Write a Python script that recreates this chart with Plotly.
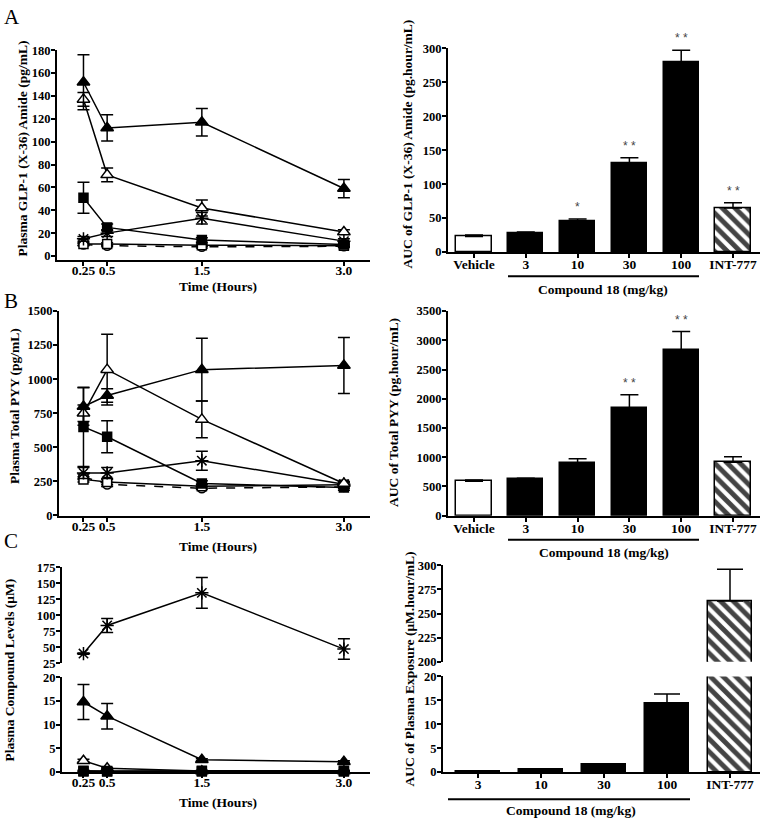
import plotly.graph_objects as go

# ---- data ----
hours = [0.25, 0.5, 1.5, 3.0]
hour_labels = ["0.25", "0.5", "1.5", "3.0"]

# panel A, plasma GLP-1 (pg/mL)
glp_veh = [10, 9, 8, 8.5]
glp_veh_err = [1, 1, 1, 1]
glp_3 = [10.5, 10.5, 9.5, 9]
glp_3_err = [1, 1, 1, 1]
glp_10 = [51, 25, 14, 10]
glp_10_err = [13.5, 3, 2, 2]
glp_30 = [137, 71, 42, 21]
glp_30_err = [6, 6, 7, 2]
glp_100 = [152, 112, 117, 59]
glp_100_err = [24, 11.5, 12, 8]
glp_int = [15, 20, 33, 13]
glp_int_err = [2, 3, 5, 2]

auc_groups = ["Vehicle", "3", "10", "30", "100", "INT-777"]
glp_auc = [23, 28, 45, 130, 280, 65]
glp_auc_err = [2, 1.5, 3.5, 9, 17, 7.5]
glp_auc_sig = ["", "", "*", "**", "**", "**"]

# panel B, plasma total PYY (pg/mL)
pyy_veh = [285, 228, 200, 210]
pyy_veh_err = [20, 15, 10, 10]
pyy_3 = [265, 245, 215, 225]
pyy_3_err = [20, 20, 15, 15]
pyy_10 = [650, 578, 235, 205]
pyy_10_err = [290, 118, 20, 20]
pyy_30 = [750, 1070, 705, 235]
pyy_30_err = [60, 260, 135, 15]
pyy_100 = [800, 880, 1070, 1100]
pyy_100_err = [137, 50, 230, 205]
pyy_int = [312, 312, 402, 230]
pyy_int_err = [40, 40, 70, 15]

pyy_auc = [590, 625, 900, 1840, 2830, 915]
pyy_auc_err = [20, 15, 75, 230, 320, 95]
pyy_auc_sig = ["", "", "", "**", "**", ""]

# panel C, plasma compound levels (uM)
cmp_3 = [0.1, 0.1, 0.1, 0.1]
cmp_3_err = [0.05, 0.05, 0.05, 0.05]
cmp_10 = [0.3, 0.25, 0.3, 0.3]
cmp_10_err = [0.1, 0.1, 0.1, 0.1]
cmp_30 = [2.4, 0.8, 0.2, 0.2]
cmp_30_err = [0.3, 0.1, 0.05, 0.05]
cmp_100 = [14.8, 11.8, 2.6, 2.2]
cmp_100_err = [3.7, 2.7, 0.2, 0.2]
cmp_int = [40, 84, 135, 47]
cmp_int_err = [1, 11, 24, 16]

exp_groups = ["3", "10", "30", "100", "INT-777"]
exp_auc = [0.05, 0.6, 1.6, 14.4, 263]
exp_auc_err = [0.02, 0.1, 0.1, 1.9, 33]

W, H = 763, 823
FONT = "Liberation Serif"


def px(x):
    return x / W


def py(y):
    return 1 - y / H


def trange(left, right):
    # time axis: 0.25 h sits at x=83.5px, 3.0 h at x=344px
    return [(left - 59.8) / 94.7, (right - 59.8) / 94.7]


fig = go.Figure()

styles = {
    "veh": dict(symbol="circle", color="white", size=9, dash="dash"),
    "3": dict(symbol="square", color="white", size=9, dash="solid"),
    "10": dict(symbol="square", color="black", size=9, dash="solid"),
    "30": dict(symbol="triangle-up", color="white", size=11, dash="solid"),
    "100": dict(symbol="triangle-up", color="black", size=11, dash="solid"),
    "int": dict(symbol="asterisk-open", color="black", size=11, dash="solid"),
}


def add_line(y, err, key, xa, ya):
    s = styles[key]
    fig.add_trace(go.Scatter(
        x=hours, y=y, xaxis=xa, yaxis=ya, mode="lines+markers",
        line=dict(color="black", width=1.5, dash=s["dash"]),
        marker=dict(symbol=s["symbol"], size=s["size"], color=s["color"],
                    line=dict(color="black", width=1.5)),
        error_y=dict(type="data", array=err, color="black", thickness=1.5, width=6),
        showlegend=False, cliponaxis=False))


def add_bars(vals, errs, xa, ya, groups, width, cap, first_white):
    n = len(vals)
    colors = ["black"] * n
    shapes = [""] * n
    colors[-1] = "white"
    shapes[-1] = "\\"
    if first_white:
        colors[0] = "white"
    fig.add_trace(go.Bar(
        x=list(range(n)), y=vals, xaxis=xa, yaxis=ya, width=width,
        marker=dict(color=colors, line=dict(color="black", width=1.5),
                    pattern=dict(shape=shapes, fgcolor="#000000", bgcolor="white",
                                 fgopacity=1, size=9, solidity=0.55)),
        error_y=dict(type="data", symmetric=False, array=errs, arrayminus=[0] * n,
                     color="black", thickness=1.5, width=cap),
        showlegend=False))


# A
add_line(glp_veh, glp_veh_err, "veh", "x", "y")
add_line(glp_3, glp_3_err, "3", "x", "y")
add_line(glp_int, glp_int_err, "int", "x", "y")
add_line(glp_10, glp_10_err, "10", "x", "y")
add_line(glp_30, glp_30_err, "30", "x", "y")
add_line(glp_100, glp_100_err, "100", "x", "y")
add_bars(glp_auc, glp_auc_err, "x2", "y2", auc_groups, 0.68, 9, True)

# B
add_line(pyy_veh, pyy_veh_err, "veh", "x3", "y3")
add_line(pyy_3, pyy_3_err, "3", "x3", "y3")
add_line(pyy_int, pyy_int_err, "int", "x3", "y3")
add_line(pyy_10, pyy_10_err, "10", "x3", "y3")
add_line(pyy_30, pyy_30_err, "30", "x3", "y3")
add_line(pyy_100, pyy_100_err, "100", "x3", "y3")
add_bars(pyy_auc, pyy_auc_err, "x4", "y4", auc_groups, 0.68, 9, True)

# C (broken axes: y5 bottom / y6 top, y7 bottom / y8 top)
add_line(cmp_3, cmp_3_err, "3", "x5", "y5")
add_line(cmp_30, cmp_30_err, "30", "x5", "y5")
add_line(cmp_10, cmp_10_err, "10", "x5", "y5")
add_line(cmp_100, cmp_100_err, "100", "x5", "y5")
add_line(cmp_int, cmp_int_err, "int", "x5", "y6")
exp_low_err = exp_auc_err[:-1] + [0]
exp_high_err = [0] * (len(exp_auc) - 1) + exp_auc_err[-1:]
add_bars(exp_auc, exp_low_err, "x6", "y7", exp_groups, 0.7, 13, False)
add_bars(exp_auc, exp_high_err, "x6", "y8", exp_groups, 0.7, 13, False)

base = dict(showline=True, linecolor="black", linewidth=2, ticks="outside",
            tickcolor="black", tickwidth=2, ticklen=4,
            showgrid=False, zeroline=False, fixedrange=True)
xfont = dict(family=FONT, size=13.5, color="black", weight="bold")
yfont = dict(family=FONT, size=12.5, color="black", weight="bold")


def time_axis(left, anchor):
    return dict(base, domain=[px(left), px(370)], range=trange(left, 370),
                tickvals=hours, ticktext=hour_labels, anchor=anchor,
                tickfont=xfont, ticklabelstandoff=-7)


def cat_axis(left, c0, step, groups, anchor):
    return dict(base, domain=[px(left), px(760)],
                range=[(left - c0) / step, (760 - c0) / step],
                tickvals=list(range(len(groups))), ticktext=groups, anchor=anchor,
                tickfont=xfont, ticklabelstandoff=-5)


def val_axis(top, bottom, rng, dtick, anchor, zero_px=None):
    # zero_px: pixel row of the range start when the axis line sits a little lower
    if zero_px is not None:
        scale = (zero_px - top) / (rng[1] - rng[0])
        rng = [rng[0] - (bottom - zero_px) / scale, rng[1]]
    return dict(base, domain=[py(bottom), py(top)], range=rng, dtick=dtick,
                tick0=0, anchor=anchor, tickfont=yfont, ticklabelstandoff=-2)


fig.update_layout(
    width=W, height=H, margin=dict(l=0, r=0, t=0, b=0),
    paper_bgcolor="white", plot_bgcolor="white", bargap=0,
    xaxis=time_axis(57, "y"),
    yaxis=val_axis(44, 257, [0, 180], 20, "x", zero_px=253.3),
    xaxis2=cat_axis(448, 474, 51.8, auc_groups, "y2"),
    yaxis2=val_axis(42, 249.3, [0, 300], 50, "x2"),
    xaxis3=time_axis(59, "y3"),
    yaxis3=val_axis(309.3, 517.3, [0, 1500], 250, "x3"),
    xaxis4=cat_axis(448, 474, 51.8, auc_groups, "y4"),
    yaxis4=val_axis(309.3, 517.5, [0, 3500], 500, "x4"),
    xaxis5=time_axis(62, "y5"),
    yaxis5=val_axis(682, 778.3, [0, 20], 5, "x5"),
    yaxis6=val_axis(570, 667.5, [25, 175], 25, "x5"),
    xaxis6=cat_axis(443, 478, 63, exp_groups, "y7"),
    yaxis7=val_axis(681, 778.3, [0, 20], 5, "x6"),
    yaxis8=val_axis(568, 666, [200, 300], 25, "x6"),
)

ann = []


def label(x, y, text, angle=0, size=13.5, bold=True, anchor="center"):
    ann.append(dict(x=px(x), y=py(y), xref="paper", yref="paper", text=text,
                    showarrow=False, textangle=angle, xanchor=anchor, yanchor="middle",
                    font=dict(family=FONT, size=size, color="black",
                              weight="bold" if bold else "normal")))


label(2, 10, "A", size=21, bold=False, anchor="left")
label(2, 299, "B", size=21, bold=False, anchor="left")
label(2, 543, "C", size=21, bold=False, anchor="left")

label(23, 144, "Plasma GLP-1 (X-36) Amide (pg/mL)", angle=-90)
label(14, 406, "Plasma Total PYY (pg/mL)", angle=-90)
label(10, 675, "Plasma Compound Levels (μM)", angle=-90)
label(408, 140, "AUC of GLP-1 (X-36) Amide (pg.hour/mL)", angle=-90)
label(394, 413, "AUC of Total PYY (pg.hour/mL)", angle=-90)
label(410, 674, "AUC of Plasma Exposure (μM.hour/mL)", angle=-90)

label(218, 284, "Time (Hours)")
label(218, 549, "Time (Hours)")
label(218, 809, "Time (Hours)")
label(603, 287, "Compound 18 (mg/kg)")
label(604, 555, "Compound 18 (mg/kg)")
label(571, 817, "Compound 18 (mg/kg)")

# significance marks above the error caps
for xa, ya, vals, errs, sig in [("x2", "y2", glp_auc, glp_auc_err, glp_auc_sig),
                                ("x4", "y4", pyy_auc, pyy_auc_err, pyy_auc_sig)]:
    for i, s in enumerate(sig):
        if s:
            ann.append(dict(x=i, y=vals[i] + errs[i], xref=xa, yref=ya,
                            text=" ".join(s), showarrow=False, yanchor="bottom", yshift=3,
                            font=dict(family="Liberation Sans", size=12, color="#444")))

fig.update_layout(annotations=ann)

# underlines grouping the compound 18 doses
for x0, x1, y in [(508, 699, 274), (508, 699, 542), (448, 690, 806)]:
    fig.add_shape(type="line", xref="paper", yref="paper",
                  x0=px(x0), x1=px(x1), y0=py(y), y1=py(y),
                  line=dict(color="black", width=2))

# drop the default page margin so the figure sits at the window's top-left corner
fig.write_html("out.html", config={"displayModeBar": False},
               post_script="document.body.style.margin='0';")
